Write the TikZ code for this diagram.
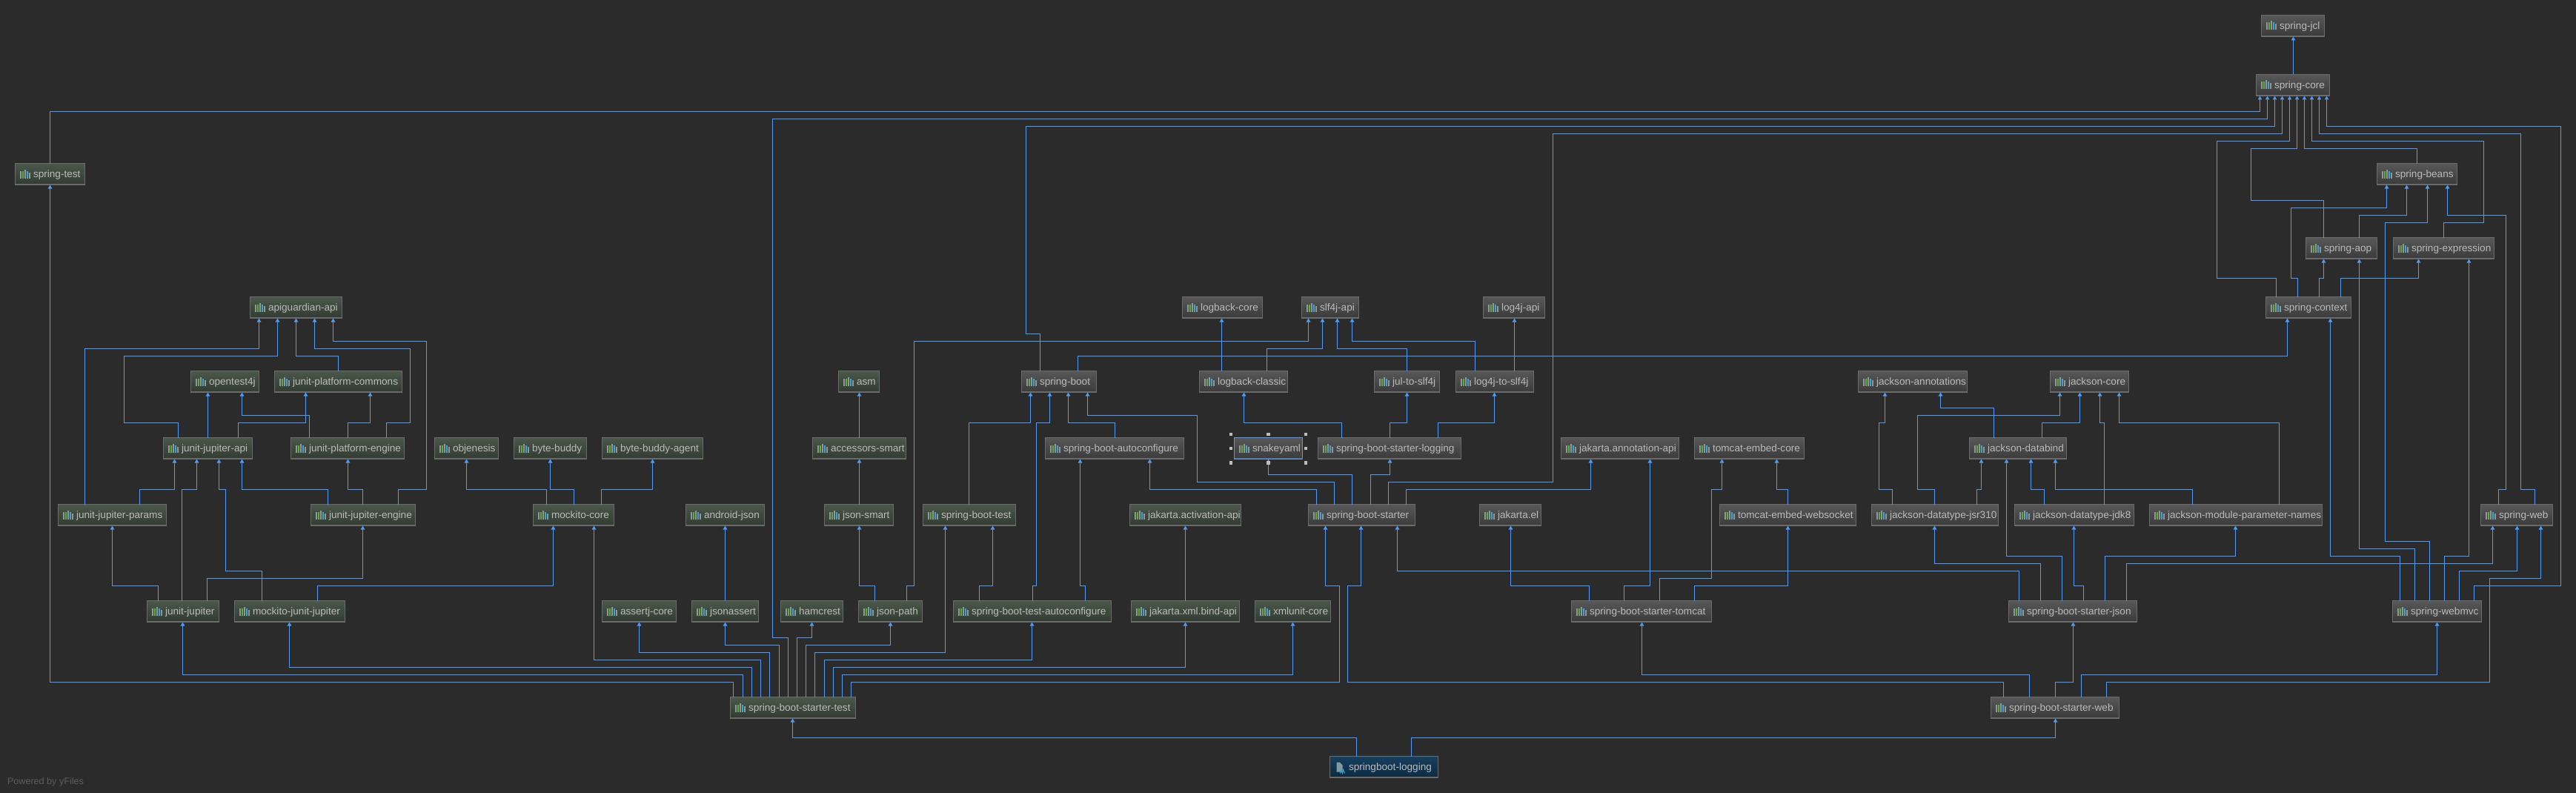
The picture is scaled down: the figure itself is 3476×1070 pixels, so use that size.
\documentclass[tikz,border=0pt]{standalone}
\usepackage{fontspec}
\setmainfont{Liberation Sans}
\usetikzlibrary{arrows.meta}
\definecolor{bgc}{HTML}{2B2B2B}
\definecolor{edgec}{HTML}{5099F5}
\definecolor{txtc}{HTML}{BBBBBB}
\definecolor{brd}{HTML}{6B6B6B}
\definecolor{icgray}{HTML}{8E979A}
\definecolor{icgreen}{HTML}{5FAE3A}
\definecolor{icblue}{HTML}{3CA6D2}
\definecolor{gtop}{HTML}{4A574A}
\definecolor{gbot}{HTML}{323A32}
\definecolor{ytop}{HTML}{585858}
\definecolor{ybot}{HTML}{3A3A3A}
\definecolor{btop}{HTML}{173F5E}
\definecolor{bbot}{HTML}{0D2A42}
\definecolor{handlec}{HTML}{BDBDBD}
\definecolor{footc}{HTML}{5C5C5C}
\tikzset{
  basebox/.style={draw=brd,line width=1pt,inner sep=0pt,outer sep=0pt,anchor=north west,
    text=txtc,font=\fontsize{13.6}{16}\selectfont,text height=11pt,text depth=2pt},
  greenbox/.style={basebox,top color=gtop,bottom color=gbot},
  graybox/.style={basebox,top color=ytop,bottom color=ybot},
  bluebox/.style={basebox,top color=btop,bottom color=bbot},
  selbox/.style={basebox,top color=ytop,bottom color=ybot,draw=edgec},
  dep/.style={draw=edgec,line width=1.3pt,-{Triangle[length=5pt,width=5.5pt]},shift={(0.5,0.5)}},
  handle/.style={fill=handlec,minimum size=4.6pt,inner sep=0pt,outer sep=0pt,draw=none},
}
\newcommand{\barsfor}[1]{%
  \fill[icgray]  ([shift={(6.5,10)}]#1.north west) rectangle ([shift={(8.7,20)}]#1.north west);
  \fill[icgreen] ([shift={(9.4,10)}]#1.north west) rectangle ([shift={(11.6,20)}]#1.north west);
  \fill[icgray]  ([shift={(12.3,8)}]#1.north west) rectangle ([shift={(14.5,20)}]#1.north west);
  \fill[icblue]  ([shift={(15.2,10)}]#1.north west) rectangle ([shift={(17.4,20)}]#1.north west);
  \fill[icgray]  ([shift={(18.1,12)}]#1.north west) rectangle ([shift={(20.3,20)}]#1.north west);
}
\newcommand{\nd}[7]{%
  \pgfmathsetmacro\boxw{#5-#3-1}\pgfmathsetmacro\boxh{#6-#4-1}%
  \node[#1,minimum width=\boxw pt,minimum height=\boxh pt] (#2) at (#3+0.5,#4+0.5)
    {\makebox[\boxw pt][l]{\hspace{24.5pt}#7}};
  \draw[brd,line width=1pt] ([yshift=0.6pt]#2.south west) -- ([yshift=0.6pt]#2.south east);
  \barsfor{#2}%
}
\begin{document}
\begin{tikzpicture}[x=1pt,y=-1pt]
\path[use as bounding box,fill=bgc] (0,0) rectangle (3476,1070);
% nodes
\nd{graybox}{jcl}{3051}{20}{3137}{50}{spring-jcl}
\nd{graybox}{core}{3044}{100}{3144}{130}{spring-core}
\nd{greenbox}{st}{20}{220}{115}{250}{spring-test}
\nd{graybox}{beans}{3207}{220}{3316}{250}{spring-beans}
\nd{graybox}{aop}{3111}{320}{3208}{350}{spring-aop}
\nd{graybox}{expr}{3229}{320}{3366}{350}{spring-expression}
\nd{greenbox}{apig}{337}{400}{462}{430}{apiguardian-api}
\nd{graybox}{lbcore}{1595}{400}{1704}{430}{logback-core}
\nd{graybox}{slf}{1756}{400}{1834}{430}{slf4j-api}
\nd{graybox}{logapi}{2001}{400}{2085}{430}{log4j-api}
\nd{graybox}{ctx}{3057}{400}{3173}{430}{spring-context}
\nd{greenbox}{ot}{257}{500}{350}{530}{opentest4j}
\nd{greenbox}{jpc}{370}{500}{543}{530}{junit-platform-commons}
\nd{greenbox}{asm}{1131}{500}{1187}{530}{asm}
\nd{graybox}{sb}{1378}{500}{1480}{530}{spring-boot}
\nd{graybox}{lbc}{1618}{500}{1738}{530}{logback-classic}
\nd{graybox}{jul}{1854}{500}{1943}{530}{jul-to-slf4j}
\nd{graybox}{lts}{1964}{500}{2070}{530}{log4j-to-slf4j}
\nd{graybox}{ja}{2507}{500}{2655}{530}{jackson-annotations}
\nd{graybox}{jc}{2766}{500}{2873}{530}{jackson-core}
\nd{greenbox}{jja}{220}{590}{341}{620}{junit-jupiter-api}
\nd{greenbox}{jpe}{392}{590}{546}{620}{junit-platform-engine}
\nd{greenbox}{obj}{586}{590}{673}{620}{objenesis}
\nd{greenbox}{bb}{693}{590}{792}{620}{byte-buddy}
\nd{greenbox}{bba}{812}{590}{949}{620}{byte-buddy-agent}
\nd{greenbox}{acc}{1096}{590}{1223}{620}{accessors-smart}
\nd{graybox}{sbac}{1410}{590}{1598}{620}{spring-boot-autoconfigure}
\nd{selbox}{snake}{1665}{590}{1758}{620}{snakeyaml}
\nd{graybox}{sbl}{1778}{590}{1972}{620}{spring-boot-starter-logging}
\nd{graybox}{jaa}{2106}{590}{2266}{620}{jakarta.annotation-api}
\nd{graybox}{tec}{2286}{590}{2435}{620}{tomcat-embed-core}
\nd{graybox}{jd}{2657}{590}{2789}{620}{jackson-databind}
\nd{greenbox}{jjp}{78}{680}{225}{710}{junit-jupiter-params}
\nd{greenbox}{jje}{419}{680}{561}{710}{junit-jupiter-engine}
\nd{greenbox}{mc}{719}{680}{829}{710}{mockito-core}
\nd{greenbox}{aj}{925}{680}{1032}{710}{android-json}
\nd{greenbox}{jsm}{1112}{680}{1206}{710}{json-smart}
\nd{greenbox}{sbtest}{1245}{680}{1371}{710}{spring-boot-test}
\nd{greenbox}{jact}{1524}{680}{1675}{710}{jakarta.activation-api}
\nd{graybox}{sbs}{1765}{680}{1910}{710}{spring-boot-starter}
\nd{graybox}{jel}{1996}{680}{2080}{710}{jakarta.el}
\nd{graybox}{tew}{2320}{680}{2505}{710}{tomcat-embed-websocket}
\nd{graybox}{jsr}{2525}{680}{2697}{710}{jackson-datatype-jsr310}
\nd{graybox}{jdk}{2718}{680}{2880}{710}{jackson-datatype-jdk8}
\nd{graybox}{jmp}{2900}{680}{3134}{710}{jackson-module-parameter-names}
\nd{graybox}{web}{3347}{680}{3445}{710}{spring-web}
\nd{greenbox}{jj}{198}{810}{296}{840}{junit-jupiter}
\nd{greenbox}{mjj}{316}{810}{466}{840}{mockito-junit-jupiter}
\nd{greenbox}{asj}{812}{810}{913}{840}{assertj-core}
\nd{greenbox}{jsa}{933}{810}{1024}{840}{jsonassert}
\nd{greenbox}{ham}{1053}{810}{1138}{840}{hamcrest}
\nd{greenbox}{jp}{1158}{810}{1245}{840}{json-path}
\nd{greenbox}{sbta}{1286}{810}{1500}{840}{spring-boot-test-autoconfigure}
\nd{greenbox}{jxb}{1526}{810}{1673}{840}{jakarta.xml.bind-api}
\nd{greenbox}{xu}{1693}{810}{1796}{840}{xmlunit-core}
\nd{graybox}{sbtom}{2120}{810}{2310}{840}{spring-boot-starter-tomcat}
\nd{graybox}{sbj}{2710}{810}{2884}{840}{spring-boot-starter-json}
\nd{graybox}{mvc}{3228}{810}{3349}{840}{spring-webmvc}
\nd{greenbox}{sbst}{985}{940}{1155}{970}{spring-boot-starter-test}
\nd{graybox}{sbw}{2686}{940}{2860}{970}{spring-boot-starter-web}
% root module (its own icon)
\pgfmathsetmacro\boxw{146}\pgfmathsetmacro\boxh{29}
\node[bluebox,minimum width=\boxw pt,minimum height=\boxh pt] (root) at (1794.5,1020.5)
  {\makebox[\boxw pt][l]{\hspace{25.5pt}springboot-logging}};
\draw[brd,line width=1pt] ([yshift=0.6pt]root.south west) -- ([yshift=0.6pt]root.south east);
\fill[icgray!85!icblue] ([shift={(9,8)}]root.north west) -- ([shift={(13,8)}]root.north west)
  -- ([shift={(17,12)}]root.north west) -- ([shift={(17,21)}]root.north west)
  -- ([shift={(9,21)}]root.north west) -- cycle;
\draw[icblue,line width=1pt] ([shift={(14,23)}]root.north west) -- ([shift={(15,18)}]root.north west)
  -- ([shift={(17,23)}]root.north west) -- ([shift={(18,18)}]root.north west) -- ([shift={(20,23)}]root.north west);
% footer
\node[inner sep=0pt,outer sep=0pt,anchor=base west,text=footc,font=\fontsize{12.6}{15}\selectfont] (yf) at (10,1058) {Powered by yFiles};
% connectors: spring-test
\draw[dep] (67,0 |- st.north) |- (3049,150) -- (3049,0 |- core.south);
% connectors: spring-boot-starter-test
\draw[dep] (989,0 |- sbst.north) |- (67,920) -- (67,0 |- st.south);
\draw[dep] (1002,0 |- sbst.north) |- (246,910) -- (246,0 |- jj.south);
\draw[dep] (1014,0 |- sbst.north) |- (390,900) -- (390,0 |- mjj.south);
\draw[dep] (1026,0 |- sbst.north) |- (801,890) -- (801,0 |- mc.south);
\draw[dep] (1038,0 |- sbst.north) |- (862,880) -- (862,0 |- asj.south);
\draw[dep] (1051,0 |- sbst.north) |- (978,870) -- (978,0 |- jsa.south);
\draw[dep] (1063,0 |- sbst.north) |- (1042,860) |- (3059,160) -- (3059,0 |- core.south);
\draw[dep] (1075,0 |- sbst.north) |- (1095,860) -- (1095,0 |- ham.south);
\draw[dep] (1087,0 |- sbst.north) |- (1201,870) -- (1201,0 |- jp.south);
\draw[dep] (1099,0 |- sbst.north) |- (1275,880) -- (1275,0 |- sbtest.south);
\draw[dep] (1112,0 |- sbst.north) |- (1392,890) -- (1392,0 |- sbta.south);
\draw[dep] (1124,0 |- sbst.north) |- (1599,900) -- (1599,0 |- jxb.south);
\draw[dep] (1136,0 |- sbst.north) |- (1744,910) -- (1744,0 |- xu.south);
\draw[dep] (1148,0 |- sbst.north) |- (1807,920) |- (1788,790) -- (1788,0 |- sbs.south);
% root
\draw[dep] (1830,0 |- root.north) |- (1069,995) -- (1069,0 |- sbst.south);
\draw[dep] (1904,0 |- root.north) |- (2773,995) -- (2773,0 |- sbw.south);
% spring-boot-starter-web
\draw[dep] (2703,0 |- sbw.north) |- (1818,920) |- (1836,790) -- (1836,0 |- sbs.south);
\draw[dep] (2738,0 |- sbw.north) |- (2215,910) -- (2215,0 |- sbtom.south);
\draw[dep] (2773,0 |- sbw.north) |- (2797,920) -- (2797,0 |- sbj.south);
\draw[dep] (2808,0 |- sbw.north) |- (3288,910) -- (3288,0 |- mvc.south);
\draw[dep] (2842,0 |- sbw.north) |- (3359,920) |- (3428,780) -- (3428,0 |- web.south);
% spring core
\draw[dep] (3094,0 |- core.north) -- (3094,0 |- jcl.south);
\draw[dep] (1403,0 |- sb.north) |- (1384,450) |- (3069,170) -- (3069,0 |- core.south);
\draw[dep] (1873,0 |- sbs.north) |- (2095,650) |- (3079,180) -- (3079,0 |- core.south);
\draw[dep] (3071,0 |- ctx.north) |- (2991,375) |- (3089,190) -- (3089,0 |- core.south);
\draw[dep] (3135,0 |- aop.north) |- (3037,270) |- (3099,200) -- (3099,0 |- core.south);
\draw[dep] (3261,0 |- beans.north) |- (3109,200) -- (3109,0 |- core.south);
\draw[dep] (3297,0 |- expr.north) |- (3351,300) |- (3119,190) -- (3119,0 |- core.south);
\draw[dep] (3420,0 |- web.north) |- (3401,660) |- (3129,180) -- (3129,0 |- core.south);
\draw[dep] (3338,0 |- mvc.north) |- (3455,790) |- (3139,170) -- (3139,0 |- core.south);
% spring beans
\draw[dep] (3100,0 |- ctx.north) |- (3091,375) |- (3220,280) -- (3220,0 |- beans.south);
\draw[dep] (3183,0 |- aop.north) |- (3247,290) -- (3247,0 |- beans.south);
\draw[dep] (3278,0 |- mvc.north) |- (3218,730) |- (3275,300) -- (3275,0 |- beans.south);
\draw[dep] (3371,0 |- web.north) |- (3381,660) |- (3302,290) -- (3302,0 |- beans.south);
% aop, expression, context
\draw[dep] (3129,0 |- ctx.north) |- (3135,375) -- (3135,0 |- aop.south);
\draw[dep] (3258,0 |- mvc.north) |- (3183,740) -- (3183,0 |- aop.south);
\draw[dep] (3158,0 |- ctx.north) |- (3263,375) -- (3263,0 |- expr.south);
\draw[dep] (3298,0 |- mvc.north) |- (3331,750) -- (3331,0 |- expr.south);
\draw[dep] (3238,0 |- mvc.north) |- (3144,750) -- (3144,0 |- ctx.south);
\draw[dep] (1454,0 |- sb.north) |- (3086,480) -- (3086,0 |- ctx.south);
% spring-web
\draw[dep] (2869,0 |- sbj.north) |- (3363,760) -- (3363,0 |- web.south);
\draw[dep] (3318,0 |- mvc.north) |- (3396,770) -- (3396,0 |- web.south);
% spring-boot-starter-json
\draw[dep] (2724,0 |- sbj.north) |- (1885,770) -- (1885,0 |- sbs.south);
\draw[dep] (2753,0 |- sbj.north) |- (2610,760) -- (2610,0 |- jsr.south);
\draw[dep] (2782,0 |- sbj.north) |- (2707,750) -- (2707,0 |- jd.south);
\draw[dep] (2811,0 |- sbj.north) |- (2798,790) -- (2798,0 |- jdk.south);
\draw[dep] (2840,0 |- sbj.north) |- (3016,750) -- (3016,0 |- jmp.south);
% jackson
\draw[dep] (2553,0 |- jsr.north) |- (2535,660) |- (2543,570) -- (2543,0 |- ja.south);
\draw[dep] (2690,0 |- jd.north) |- (2618,550) -- (2618,0 |- ja.south);
\draw[dep] (2610,0 |- jsr.north) |- (2587,660) |- (2779,560) -- (2779,0 |- jc.south);
\draw[dep] (2755,0 |- jd.north) |- (2806,570) -- (2806,0 |- jc.south);
\draw[dep] (2839,0 |- jdk.north) |- (2833,570) -- (2833,0 |- jc.south);
\draw[dep] (3075,0 |- jmp.north) |- (2859,570) -- (2859,0 |- jc.south);
\draw[dep] (2667,0 |- jsr.north) |- (2673,660) -- (2673,0 |- jd.south);
\draw[dep] (2758,0 |- jdk.north) |- (2740,660) -- (2740,0 |- jd.south);
\draw[dep] (2958,0 |- jmp.north) |- (2773,660) -- (2773,0 |- jd.south);
% spring-boot-starter
\draw[dep] (1776,0 |- sbs.north) |- (1551,660) -- (1551,0 |- sbac.south);
\draw[dep] (1800,0 |- sbs.north) |- (1615,650) |- (1467,560) -- (1467,0 |- sb.south);
\draw[dep] (1824,0 |- sbs.north) |- (1711,640) -- (1711,0 |- snake.south);
\draw[dep] (1849,0 |- sbs.north) |- (1875,640) -- (1875,0 |- sbl.south);
\draw[dep] (1897,0 |- sbs.north) |- (2146,660) -- (2146,0 |- jaa.south);
% logging
\draw[dep] (1810,0 |- sbl.north) |- (1678,570) -- (1678,0 |- lbc.south);
\draw[dep] (1875,0 |- sbl.north) |- (1898,570) -- (1898,0 |- jul.south);
\draw[dep] (1940,0 |- sbl.north) |- (2016,570) -- (2016,0 |- lts.south);
\draw[dep] (1648,0 |- lbc.north) -- (1648,0 |- lbcore.south);
\draw[dep] (1709,0 |- lbc.north) |- (1784,470) -- (1784,0 |- slf.south);
\draw[dep] (1898,0 |- jul.north) |- (1804,470) -- (1804,0 |- slf.south);
\draw[dep] (1990,0 |- lts.north) |- (1824,460) -- (1824,0 |- slf.south);
\draw[dep] (2043,0 |- lts.north) -- (2043,0 |- logapi.south);
\draw[dep] (1223,0 |- jp.north) |- (1233,790) |- (1765,460) -- (1765,0 |- slf.south);
% spring-boot
\draw[dep] (1307,0 |- sbtest.north) |- (1390,570) -- (1390,0 |- sb.south);
\draw[dep] (1393,0 |- sbta.north) |- (1398,790) |- (1416,570) -- (1416,0 |- sb.south);
\draw[dep] (1504,0 |- sbac.north) |- (1441,570) -- (1441,0 |- sb.south);
\draw[dep] (1321,0 |- sbta.north) |- (1339,790) -- (1339,0 |- sbtest.south);
\draw[dep] (1464,0 |- sbta.north) |- (1457,790) -- (1457,0 |- sbac.south);
\draw[dep] (1599,0 |- jxb.north) -- (1599,0 |- jact.south);
% tomcat
\draw[dep] (2144,0 |- sbtom.north) |- (2038,790) -- (2038,0 |- jel.south);
\draw[dep] (2191,0 |- sbtom.north) |- (2226,790) -- (2226,0 |- jaa.south);
\draw[dep] (2239,0 |- sbtom.north) |- (2309,780) |- (2323,660) -- (2323,0 |- tec.south);
\draw[dep] (2286,0 |- sbtom.north) |- (2412,790) -- (2412,0 |- tew.south);
\draw[dep] (2412,0 |- tew.north) |- (2397,660) -- (2397,0 |- tec.south);
% json path family
\draw[dep] (1180,0 |- jp.north) |- (1159,790) -- (1159,0 |- jsm.south);
\draw[dep] (1159,0 |- jsm.north) -- (1159,0 |- acc.south);
\draw[dep] (1159,0 |- acc.north) -- (1159,0 |- asm.south);
\draw[dep] (978,0 |- jsa.north) -- (978,0 |- aj.south);
% mockito
\draw[dep] (737,0 |- mc.north) |- (629,660) -- (629,0 |- obj.south);
\draw[dep] (774,0 |- mc.north) |- (742,660) -- (742,0 |- bb.south);
\draw[dep] (811,0 |- mc.north) |- (880,660) -- (880,0 |- bba.south);
\draw[dep] (428,0 |- mjj.north) |- (746,790) -- (746,0 |- mc.south);
% junit
\draw[dep] (213,0 |- jj.north) |- (151,790) -- (151,0 |- jjp.south);
\draw[dep] (279,0 |- jj.north) |- (489,780) -- (489,0 |- jje.south);
\draw[dep] (188,0 |- jjp.north) |- (235,660) -- (235,0 |- jja.south);
\draw[dep] (245,0 |- jj.north) |- (265,660) -- (265,0 |- jja.south);
\draw[dep] (353,0 |- mjj.north) |- (304,770) |- (295,660) -- (295,0 |- jja.south);
\draw[dep] (442,0 |- jje.north) |- (326,660) -- (326,0 |- jja.south);
\draw[dep] (489,0 |- jje.north) |- (469,660) -- (469,0 |- jpe.south);
\draw[dep] (114,0 |- jjp.north) |- (349,470) -- (349,0 |- apig.south);
\draw[dep] (240,0 |- jja.north) |- (167,570) |- (374,480) -- (374,0 |- apig.south);
\draw[dep] (456,0 |- jpc.north) |- (399,480) -- (399,0 |- apig.south);
\draw[dep] (521,0 |- jpe.north) |- (553,570) |- (424,470) -- (424,0 |- apig.south);
\draw[dep] (537,0 |- jje.north) |- (575,660) |- (449,460) -- (449,0 |- apig.south);
\draw[dep] (280,0 |- jja.north) -- (280,0 |- ot.south);
\draw[dep] (417,0 |- jpe.north) |- (326,560) -- (326,0 |- ot.south);
\draw[dep] (321,0 |- jja.north) |- (412,570) -- (412,0 |- jpc.south);
\draw[dep] (469,0 |- jpe.north) |- (499,570) -- (499,0 |- jpc.south);
% selection handles of snakeyaml
\node[handle] (h1) at (1661,586) {};
\node[handle] (h2) at (1711.5,586) {};
\node[handle] (h3) at (1762,586) {};
\node[handle] (h4) at (1661,605) {};
\node[handle] (h5) at (1762,605) {};
\node[handle] (h6) at (1661,624.5) {};
\node[handle] (h7) at (1711.5,624.5) {};
\node[handle] (h8) at (1762,624.5) {};
\end{tikzpicture}
\end{document}
